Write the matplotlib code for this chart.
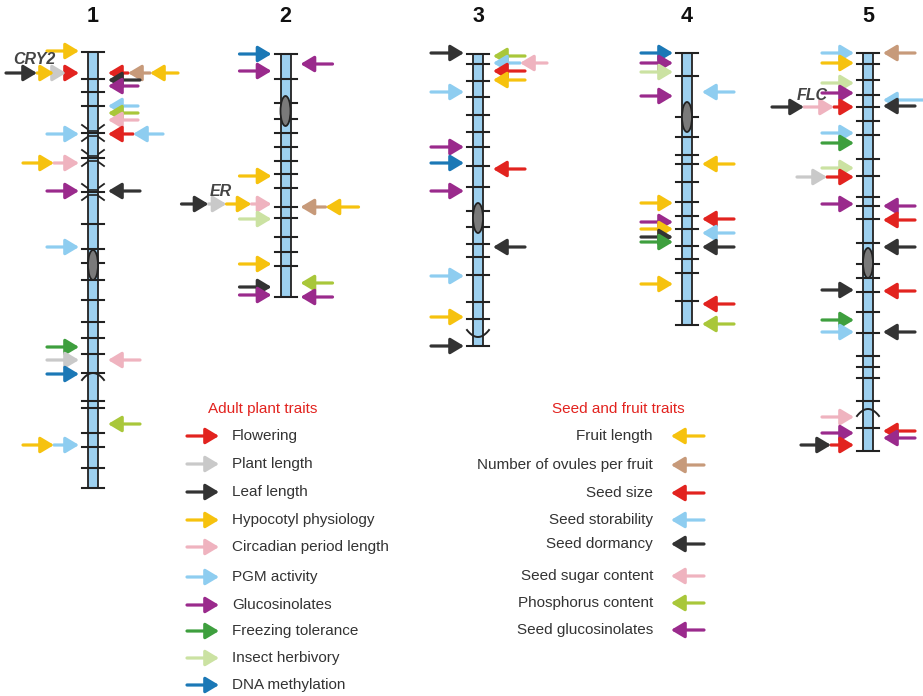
import numpy as np
import matplotlib.pyplot as plt
from matplotlib.patches import Rectangle, Ellipse

plt.rcParams['font.family'] = ['Liberation Sans', 'DejaVu Sans']

# ---------------------------------------------------------
# Trait colours
# ---------------------------------------------------------
COL = {
    'flower':  '#e2231f',   # flowering / seed size
    'plant':   '#c9c9c9',   # plant length
    'leaf':    '#333333',   # leaf length / seed dormancy
    'hypo':    '#f6c20e',   # hypocotyl / fruit length
    'circ':    '#efb3bf',   # circadian / seed sugar
    'pgm':     '#8ecdf0',   # PGM activity / storability
    'gluc':    '#9a2a8c',   # glucosinolates
    'freeze':  '#3e9f3e',   # freezing tolerance
    'insect':  '#cbe2a2',   # insect herbivory
    'dna':     '#1b78b6',   # DNA methylation
    'ovule':   '#c79a7a',   # ovules per fruit
    'phos':    '#a9c73a',   # phosphorus content
}

# ---------------------------------------------------------
# Chromosome layout (pixel space of the original figure)
# ---------------------------------------------------------
chrom_names = ['1', '2', '3', '4', '5']
chrom_x = [93, 285.5, 478, 687, 868]
chrom_top = [52, 54, 54, 53, 53]
chrom_bottom = [488, 297, 346, 325, 451]
centromere_y = [265, 111, 218, 117, 263]

chrom_ticks = [
    [79, 92, 106, 133, 158, 192, 224, 249, 263, 280, 300, 322, 338, 354,
     373, 401, 408, 433, 447, 468],
    [79, 103, 119, 133, 147, 161, 174, 188, 207, 218, 237, 252, 266],
    [64, 81, 97, 115, 132, 147, 166, 187, 211, 227, 244, 257, 275, 302, 319],
    [76, 117, 137, 155, 164, 182, 202, 216, 229, 246, 259, 273, 301],
    [64, 80, 95, 107, 121, 135, 159, 176, 197, 206, 219, 243, 264, 278,
     292, 312, 333, 356, 367, 378, 401, 428],
]
# crossover ("X") marks and arc marks: (chromosome index, y)
cross_marks = [(0, 133), (0, 158), (0, 192)]
arc_marks = [(0, 373, 'cap'), (2, 337, 'cup'), (4, 409, 'cap')]

# ---------------------------------------------------------
# QTL arrows: (chromosome, y, [(trait, length), ...] from head outwards)
# ---------------------------------------------------------
left_arrows = [
    (0, 51, [('hypo', 32)]),
    (0, 73, [('flower', 13), ('plant', 12), ('hypo', 17), ('leaf', 31)]),
    (0, 134, [('pgm', 32)]),
    (0, 163, [('circ', 25), ('hypo', 31)]),
    (0, 191, [('gluc', 32)]),
    (0, 247, [('pgm', 32)]),
    (0, 347, [('freeze', 32)]),
    (0, 360, [('plant', 32)]),
    (0, 374, [('dna', 32)]),
    (0, 445, [('pgm', 25), ('hypo', 31)]),
    (1, 54, [('dna', 32)]),
    (1, 71, [('gluc', 32)]),
    (1, 176, [('hypo', 32)]),
    (1, 204, [('circ', 20), ('hypo', 25), ('plant', 18), ('leaf', 27)]),
    (1, 219, [('insect', 32)]),
    (1, 264, [('hypo', 32)]),
    (1, 287, [('leaf', 32)]),
    (1, 295, [('gluc', 32)]),
    (2, 53, [('leaf', 33)]),
    (2, 92, [('pgm', 33)]),
    (2, 147, [('gluc', 33)]),
    (2, 163, [('dna', 33)]),
    (2, 191, [('gluc', 33)]),
    (2, 276, [('pgm', 33)]),
    (2, 317, [('hypo', 33)]),
    (2, 346, [('leaf', 33)]),
    (3, 53, [('dna', 32)]),
    (3, 63, [('gluc', 32)]),
    (3, 72, [('insect', 32)]),
    (3, 96, [('gluc', 32)]),
    (3, 203, [('hypo', 32)]),
    (3, 222, [('gluc', 32)]),
    (3, 229, [('hypo', 32)]),
    (3, 237, [('leaf', 32)]),
    (3, 242, [('freeze', 32)]),
    (3, 284, [('hypo', 32)]),
    (4, 53, [('pgm', 32)]),
    (4, 63, [('hypo', 32)]),
    (4, 83, [('insect', 32)]),
    (4, 93, [('gluc', 32)]),
    (4, 107, [('flower', 20), ('circ', 30), ('leaf', 32)]),
    (4, 133, [('pgm', 32)]),
    (4, 143, [('freeze', 32)]),
    (4, 168, [('insect', 32)]),
    (4, 177, [('flower', 27), ('plant', 30)]),
    (4, 204, [('gluc', 32)]),
    (4, 290, [('leaf', 32)]),
    (4, 320, [('freeze', 32)]),
    (4, 332, [('pgm', 32)]),
    (4, 417, [('circ', 32)]),
    (4, 433, [('gluc', 32)]),
    (4, 445, [('flower', 23), ('leaf', 30)]),
]
right_arrows = [
    (0, 73, [('flower', 20), ('ovule', 22), ('hypo', 28)]),
    (0, 80, [('leaf', 32)]),
    (0, 86, [('gluc', 30)]),
    (0, 106, [('pgm', 30)]),
    (0, 113, [('phos', 30)]),
    (0, 120, [('circ', 30)]),
    (0, 134, [('flower', 25), ('pgm', 30)]),
    (0, 191, [('leaf', 32)]),
    (0, 360, [('circ', 32)]),
    (0, 424, [('phos', 32)]),
    (1, 64, [('gluc', 32)]),
    (1, 207, [('ovule', 25), ('hypo', 33)]),
    (1, 283, [('phos', 32)]),
    (1, 297, [('gluc', 32)]),
    (2, 56, [('phos', 32)]),
    (2, 63, [('pgm', 27), ('circ', 27)]),
    (2, 71, [('flower', 32)]),
    (2, 80, [('hypo', 32)]),
    (2, 169, [('flower', 32)]),
    (2, 247, [('leaf', 32)]),
    (3, 92, [('pgm', 32)]),
    (3, 164, [('hypo', 32)]),
    (3, 219, [('flower', 32)]),
    (3, 233, [('pgm', 32)]),
    (3, 247, [('leaf', 32)]),
    (3, 304, [('flower', 32)]),
    (3, 324, [('phos', 32)]),
    (4, 53, [('ovule', 32)]),
    (4, 100, [('pgm', 40)]),
    (4, 106, [('leaf', 32)]),
    (4, 206, [('gluc', 32)]),
    (4, 220, [('flower', 32)]),
    (4, 247, [('leaf', 32)]),
    (4, 291, [('flower', 32)]),
    (4, 332, [('leaf', 32)]),
    (4, 431, [('flower', 32)]),
    (4, 438, [('gluc', 32)]),
]
gene_labels = [('CRY2', 0, 34, 60), ('ER', 1, 221, 192), ('FLC', 4, 812, 96)]

# ---------------------------------------------------------
# Legends
# ---------------------------------------------------------
adult_traits = ['Flowering', 'Plant length', 'Leaf length', 'Hypocotyl physiology',
                'Circadian period length', 'PGM activity', 'Glucosinolates',
                'Freezing tolerance', 'Insect herbivory', 'DNA methylation']
adult_keys = ['flower', 'plant', 'leaf', 'hypo', 'circ', 'pgm', 'gluc',
              'freeze', 'insect', 'dna']
adult_y = [436, 464, 492, 520, 547, 577, 605, 631, 658, 685]

seed_traits = ['Fruit length', 'Number of ovules per fruit', 'Seed size',
               'Seed storability', 'Seed dormancy', 'Seed sugar content',
               'Phosphorus content', 'Seed glucosinolates']
seed_keys = ['hypo', 'ovule', 'flower', 'pgm', 'leaf', 'circ', 'phos', 'gluc']
seed_y = [436, 465, 493, 520, 544, 576, 603, 630]

LINE = '#222222'
HEAD_GAP_L = 14
HEAD_GAP_R = 15
TXT = 11


def arrow(ax, x_tail, x_head, y, color):
    ax.annotate('', xy=(x_head, y), xytext=(x_tail, y),
                arrowprops=dict(arrowstyle='-|>,head_length=0.5,head_width=0.3',
                                color=color, lw=2.3, mutation_scale=16,
                                shrinkA=0, shrinkB=0), zorder=4)


def arrow_chain(ax, x_head, y, segments, direction):
    # direction +1: arrows point right (left side), -1: point left
    head = x_head
    for key, length in segments:
        tail = head - direction * length
        arrow(ax, tail, head, y, COL[key])
        head = tail


fig = plt.figure(figsize=(9.23, 6.96), dpi=100)
ax = fig.add_axes([0, 0, 1, 1])
ax.set_xlim(0, 923)
ax.set_ylim(696, 0)
ax.axis('off')

for i, name in enumerate(chrom_names):
    cx = chrom_x[i]
    ax.text(cx, 17, name, ha='center', va='center', fontsize=15.5,
            fontweight='bold', color='#111111')
    ax.add_patch(Rectangle((cx - 5, chrom_top[i]), 10, chrom_bottom[i] - chrom_top[i],
                           facecolor='#9dd0ef', edgecolor=LINE, lw=1.3, zorder=2))
    for ty in [chrom_top[i], chrom_bottom[i]] + chrom_ticks[i]:
        ax.plot([cx - 11, cx + 11], [ty, ty], color=LINE, lw=1.5, zorder=3)
    ax.add_patch(Ellipse((cx, centromere_y[i]), 10, 30, facecolor='#7a7a7a',
                         edgecolor=LINE, lw=1.3, zorder=3))

for ci, y in cross_marks:
    cx = chrom_x[ci]
    ax.plot([cx - 11, cx + 11], [y - 8, y + 8], color=LINE, lw=1.3, zorder=1)
    ax.plot([cx - 11, cx + 11], [y + 8, y - 8], color=LINE, lw=1.3, zorder=1)
    ax.plot([cx - 5, cx + 5], [y - 2.5, y - 2.5], color=LINE, lw=1.2, zorder=3)
    ax.plot([cx - 5, cx + 5], [y + 2.5, y + 2.5], color=LINE, lw=1.2, zorder=3)

for ci, y, kind in arc_marks:
    cx = chrom_x[ci]
    xs = np.linspace(-11, 11, 30)
    sign = 1 if kind == 'cap' else -1
    ax.plot(cx + xs, y + sign * (xs / 11) ** 2 * 7, color=LINE, lw=1.4, zorder=3)

for ci, y, segs in left_arrows:
    arrow_chain(ax, chrom_x[ci] - HEAD_GAP_L, y, segs, +1)
for ci, y, segs in right_arrows:
    arrow_chain(ax, chrom_x[ci] + HEAD_GAP_R, y, segs, -1)

for name, ci, lx, ly in gene_labels:
    ax.text(lx, ly, name, ha='center', va='center', fontsize=11.5,
            fontweight='bold', fontstyle='italic', color='#444444', zorder=5)

# adult plant legend
ax.text(208, 409, 'Adult plant traits', ha='left', va='center', fontsize=TXT,
        color='#e2231f')
for label, key, y in zip(adult_traits, adult_keys, adult_y):
    arrow(ax, 187, 219, y, COL[key])
    ax.text(232, y, label, ha='left', va='center', fontsize=TXT, color='#333333')

# seed and fruit legend
ax.text(552, 409, 'Seed and fruit traits', ha='left', va='center', fontsize=TXT,
        color='#e2231f')
for label, key, y in zip(seed_traits, seed_keys, seed_y):
    arrow(ax, 704, 671, y, COL[key])
    ax.text(653, y, label, ha='right', va='center', fontsize=TXT, color='#333333')

plt.savefig('out.png', dpi=100)
